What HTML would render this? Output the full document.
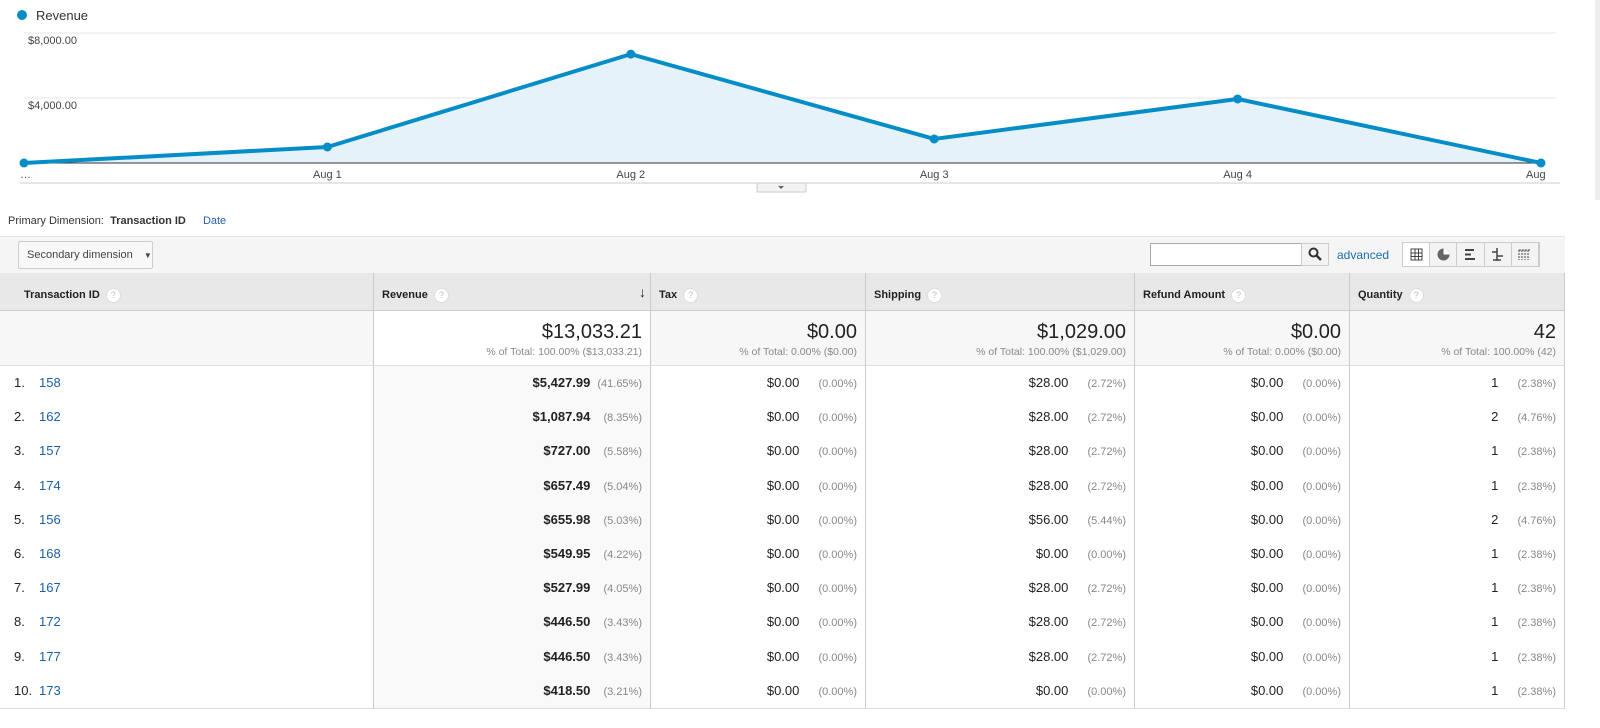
<!DOCTYPE html>
<html><head><meta charset="utf-8"><style>
html,body{margin:0;padding:0;width:1600px;height:728px;overflow:hidden}
body{background:#fff;font-family:"Liberation Sans",Arial,sans-serif;color:#222}
#root{position:relative;width:1600px;height:728px;overflow:hidden}
.a{position:absolute}
.t{position:absolute;box-sizing:border-box;border-right:1px solid #ccc;border-bottom:1px solid #ddd;overflow:hidden}
.hd{background:#e8e8e8;font-weight:bold;font-size:11px;padding:0 8px;line-height:44px;border-bottom:1px solid #ccc}
.q{display:inline-block;width:13px;height:13px;border-radius:50%;background:#fff;border:1px solid #ddd;color:#bbb;font-size:9px;line-height:13px;text-align:center;font-weight:normal;vertical-align:middle;margin-left:6px}
.cell{font-size:13px;text-align:right;padding-right:8px;line-height:33px}
.p{color:#888;font-size:11px;display:inline-block;min-width:54px;text-align:right}
.lnk{color:#1a5fa8}
</style></head><body>
<div id="root">
<svg class="a" style="left:0;top:0" width="1600" height="200">
<circle cx="22" cy="15" r="5" fill="#058dc7"/>
<text x="36" y="20" font-size="13" fill="#333">Revenue</text>
<g id="grid"></g><g id="plot"></g>
<line x1="20" y1="183" x2="1560" y2="183" stroke="#ccc"/>
<rect x="757" y="183" width="49" height="9" fill="#f3f3f3" stroke="#ccc"/>
<path d="M778 186 l3 3 3-3z" fill="#666"/>
<rect x="1595" y="0" width="5" height="728" fill="#eee"/>
</svg>
<div class="a" style="left:8px;top:215px;font-size:11px;color:#333">Primary Dimension:&nbsp; <b>Transaction ID</b> <span style="margin-left:14px;color:#2a5db0">Date</span></div>
<div class="a" style="left:0;top:236px;width:1565px;height:37px;background:#f5f5f5;border-top:1px solid #e5e5e5"></div>
<div class="a" style="left:18px;top:241px;width:135px;height:28px;border:1px solid #ccc;border-radius:2px;background:#f8f8f8;font-size:11px;line-height:26px;padding-left:8px;box-sizing:border-box;color:#444">Secondary dimension <span style="font-size:8px;margin-left:8px">▼</span></div>
<div class="a" style="left:1150px;top:243px;width:152px;height:23px;border:1px solid #aaa;background:#fff;box-sizing:border-box"></div>
<div class="a" style="left:1301px;top:243px;width:28px;height:23px;border:1px solid #ccc;background:#f3f3f3;box-sizing:border-box;text-align:center"><svg width="14" height="14" style="margin-top:3px"><circle cx="5.5" cy="5.5" r="4" stroke="#333" stroke-width="2" fill="none"/><line x1="8.5" y1="8.5" x2="13" y2="13" stroke="#333" stroke-width="2.5"/></svg></div>
<div class="a" style="left:1337px;top:248px;font-size:12px;color:#1a6fb3">advanced</div>
<div class="a" id="views" style="left:1402px;top:242px;width:138px;height:25px;border:1px solid #ccc;background:#f3f3f3;box-sizing:border-box;display:flex"></div>
<div id="tbl"></div>
</div>
<script>
const dates=["…","Aug 1","Aug 2","Aug 3","Aug 4","Aug"];
const revenue=[0,985,6700,1480,3940,0];
const yTicks=[4000,8000];
const yTickLabels=["$4,000.00","$8,000.00"];
const ids=["158","162","157","174","156","168","167","172","177","173"];
const rev=["$5,427.99","$1,087.94","$727.00","$657.49","$655.98","$549.95","$527.99","$446.50","$446.50","$418.50"];
const revP=["(41.65%)","(8.35%)","(5.58%)","(5.04%)","(5.03%)","(4.22%)","(4.05%)","(3.43%)","(3.43%)","(3.21%)"];
const ship=["$28.00","$28.00","$28.00","$28.00","$56.00","$0.00","$28.00","$28.00","$28.00","$0.00"];
const shipP=["(2.72%)","(2.72%)","(2.72%)","(2.72%)","(5.44%)","(0.00%)","(2.72%)","(2.72%)","(2.72%)","(0.00%)"];
const qty=["1","2","1","1","2","1","1","1","1","1"];
const qtyP=["(2.38%)","(4.76%)","(2.38%)","(2.38%)","(4.76%)","(2.38%)","(2.38%)","(2.38%)","(2.38%)","(2.38%)"];
const NS="http://www.w3.org/2000/svg";
const x=i=>24+i*(1541-24)/(dates.length-1);
const y=v=>163-v*(130/8000);
function mk(tag,at,par){const e=document.createElementNS(NS,tag);for(const k in at)e.setAttribute(k,at[k]);par.appendChild(e);return e;}
const g=document.getElementById('grid'),p=document.getElementById('plot');
yTicks.forEach((t,i)=>{const l=mk('line',{x1:24,x2:1556,y1:y(t),y2:y(t),stroke:'#e6e6e6'},g);


const tx=mk('text',{x:28,y:y(t)+11,'font-size':11,fill:'#444'},g);tx.textContent=yTickLabels[i];

});
let pts=revenue.map((v,i)=>x(i)+','+y(v)).join(' ');
const ar=mk('polygon',{points:x(0)+',163 '+pts+' '+x(revenue.length-1)+',163',fill:'#e5f2f9'},p);


mk('line',{x1:20,x2:1545,y1:163,y2:163,stroke:'#333'},p);
const ln=mk('polyline',{points:pts,fill:'none',stroke:'#058dc7','stroke-width':4,'stroke-linejoin':'round'},p);


revenue.forEach((v,i)=>{const c=mk('circle',{cx:x(i),cy:y(v),r:4.5,fill:'#058dc7'},p);


const t=mk('text',{x:i==0?20:(i==dates.length-1?1526:x(i)),y:178,'font-size':11,fill:'#444','text-anchor':i==0||i==dates.length-1?'start':'middle'},p);t.textContent=dates[i];

});
const vsvg=['<rect x="2" y="2" width="11" height="11" fill="none" stroke="#444"/><path d="M2 6h11M2 9.5h11M6 2v11M9.5 2v11" stroke="#444"/>',
'<circle cx="7.5" cy="7.5" r="6" fill="#666"/><path d="M7.5 7.5V1.5A6 6 0 0 1 13.5 7.5z" fill="#fff"/>',
'<path d="M2 3h9M2 7.5h6M2 12h10" stroke="#444" stroke-width="2"/>',
'<path d="M7 1v13M2 5h5M7 9h6M3 13h8" stroke="#444" stroke-width="1.5"/>',
'<path d="M2 3h11M2 3v10M5 3v10M8 3v10M11 3v10" stroke="#444" stroke-dasharray="2 1"/>'];
const vn=["table-view","pie-view","performance-view","comparison-view","pivot-view"];
vsvg.forEach((s,i)=>{const d=document.createElement('div');d.style.cssText='flex:1;border-right:1px solid #ccc;text-align:center;'+(i==0?'background:#fff':'');d.innerHTML='<svg width="15" height="15" style="margin-top:4px">'+s+'</svg>';


document.getElementById('views').appendChild(d);});
const cols=[0,374,651,866,1135,1350,1565];
const heads=["Transaction ID","Revenue","Tax","Shipping","Refund Amount","Quantity"];
const tots=[["",""],["$13,033.21","% of Total: 100.00% ($13,033.21)"],["$0.00","% of Total: 0.00% ($0.00)"],["$1,029.00","% of Total: 100.00% ($1,029.00)"],["$0.00","% of Total: 0.00% ($0.00)"],["42","% of Total: 100.00% (42)"]];
const T=document.getElementById('root');
function box(l,tp,w,h,cls,html,name,bg){const d=document.createElement('div');d.className='t '+cls;d.style.left=l+'px';d.style.top=tp+'px';d.style.width=w+'px';d.style.height=h+'px';if(bg)d.style.background=bg;d.innerHTML=html;


T.appendChild(d);return d;}
for(let c=0;c<6;c++){const w=cols[c+1]-cols[c];
const h=box(cols[c],273,w,38,'hd','<span style="'+(c==0?'padding-left:16px;':'')+'line-height:'+(c==0?'38px':'44px')+'">'+heads[c]+'</span><span class="q">?</span>'+(c==1?'<span style="position:absolute;right:4px;top:-3px;font-size:14px;font-weight:normal">↓</span>':''),'header-'+heads[c].toLowerCase().replace(/ /g,'-'));

box(cols[c],311,w,55,'',c==0?'':'<div style="text-align:right;padding:10px 8px 0 0"><div style="font-size:20px;color:#222">'+tots[c][0]+'</div><div style="font-size:10.5px;color:#888;margin-top:2px">'+tots[c][1]+'</div></div>','total-'+heads[c].toLowerCase().replace(/ /g,'-'),c==1?'#fff':'#f7f7f7');}
for(let r=0;r<ids.length;r++){const tp=Math.round(366+r*34.2);const hh=Math.round(366+(r+1)*34.2)-tp+1;
box(0,tp,374,hh,'','<div style="font-size:13px;line-height:33px;padding-left:14px">'+(r+1)+'.<span class="lnk" style="position:absolute;left:39px">'+ids[r]+'</span></div>','row-'+ids[r]+'-id','#fff');
box(374,tp,277,hh,'cell','<b>'+rev[r]+'</b> <span class="p" style="min-width:48px">'+revP[r]+'</span>','row-'+ids[r]+'-revenue','#f9f9f9');
box(651,tp,215,hh,'cell','$0.00 <span class="p">(0.00%)</span>','row-'+ids[r]+'-tax','#fff');
box(866,tp,269,hh,'cell',ship[r]+' <span class="p">'+shipP[r]+'</span>','row-'+ids[r]+'-shipping','#fff');
box(1135,tp,215,hh,'cell','$0.00 <span class="p">(0.00%)</span>','row-'+ids[r]+'-refund','#fff');
box(1350,tp,215,hh,'cell',qty[r]+' <span class="p">'+qtyP[r]+'</span>','row-'+ids[r]+'-quantity','#fff');}
</script>
</body></html>
